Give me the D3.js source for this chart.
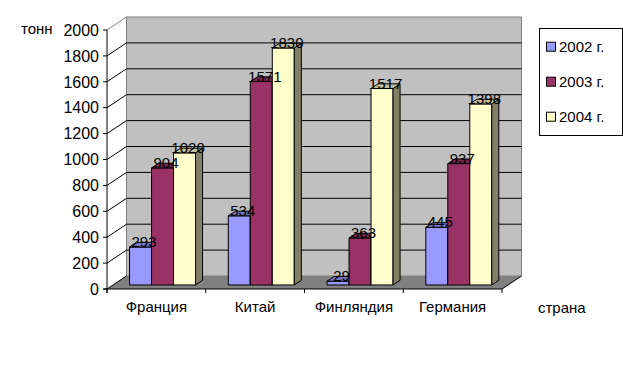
<!DOCTYPE html>
<html><head><meta charset="utf-8">
<script src="https://cdn.jsdelivr.net/npm/d3@7"></script>
<style>body{margin:0;background:#fff}svg{display:block}text{font-family:Arial,"Liberation Sans",sans-serif}</style>
</head><body><svg id="c" width="623" height="366"></svg>
<script>
const categories = ["Франция","Китай","Финляндия","Германия"];
const seriesNames = ["2002 г.","2003 г.","2004 г."];
const v2002 = [293,534,29,445];
const v2003 = [904,1571,363,937];
const v2004 = [1020,1830,1517,1398];
const yTicks = [0,200,400,600,800,1000,1200,1400,1600,1800,2000];
const colors = ["#9999FF","#993366","#FFFFCC"];
const yLabel = "тонн";
const xLabel = "страна";

const series = [v2002, v2003, v2004];
const svg = d3.select("#c");

const DX = 19.5, DY = -13;            // full depth offset
const zFront = 0.31, zBack = 0.67;     // bar depth range
const P = (x, y, z) => [x + DX*z, y + DY*z];

const x = d3.scaleBand().domain(categories).range([107, 502]);
const xs = d3.scaleBand().domain(seriesNames).range([16.5, 82.5]);
const y = d3.scaleLinear().domain([0, 2000]).range([289, 30]);

const poly = pts => pts.map(p => p.join(",")).join(" ");

// back wall
const wx0 = 107, wx1 = 502;
svg.append("polygon")
  .attr("points", poly([P(wx0,y(2000),1),P(wx1,y(2000),1),P(wx1,y(0),1),P(wx0,y(0),1)]))
  .attr("fill","#C0C0C0").attr("stroke","#808080").attr("stroke-width",1);
// floor
svg.append("polygon")
  .attr("points", poly([P(wx0,y(0),0),P(wx1,y(0),0),P(wx1,y(0),1),P(wx0,y(0),1)]))
  .attr("fill","#808080");
// gridlines
yTicks.forEach(t => {
  const a = P(wx0,y(t),0), b = P(wx0,y(t),1), c = P(wx1,y(t),1);
  const col = (t === 2000) ? "#808080" : "#000";
  svg.append("line").attr("x1",a[0]).attr("y1",a[1]).attr("x2",b[0]).attr("y2",b[1])
    .attr("stroke",col).attr("stroke-width",1);
  if (t > 0 && t < 2000)
    svg.append("line").attr("x1",b[0]).attr("y1",b[1]).attr("x2",c[0]).attr("y2",c[1])
      .attr("stroke","#000").attr("stroke-width",1);
});
// floor right edge
{ const a = P(wx1,y(0),0), b = P(wx1,y(0),1);
  svg.append("line").attr("x1",a[0]).attr("y1",a[1]).attr("x2",b[0]).attr("y2",b[1]).attr("stroke","#000"); }

// bars
const shade = (c, k) => { const r = d3.rgb(c); return d3.rgb(r.r*k, r.g*k, r.b*k).formatHex(); };
const labels = [];
categories.forEach((cat, ci) => {
  seriesNames.forEach((s, si) => {
    const v = series[si][ci];
    const xl = x(cat) + xs(s), xr = xl + xs.bandwidth();
    const yt = y(v), yb = y(0);
    const g = svg.append("g").attr("stroke","#000").attr("stroke-width",1).attr("stroke-linejoin","round");
    g.append("polygon").attr("points", poly([P(xl,yt,zFront),P(xr,yt,zFront),P(xr,yb,zFront),P(xl,yb,zFront)]))
      .attr("fill", colors[si]);
    g.append("polygon").attr("points", poly([P(xr,yt,zFront),P(xr,yt,zBack),P(xr,yb,zBack),P(xr,yb,zFront)]))
      .attr("fill", shade(colors[si], 0.5));
    g.append("polygon").attr("points", poly([P(xl,yt,zFront),P(xr,yt,zFront),P(xr,yt,zBack),P(xl,yt,zBack)]))
      .attr("fill", shade(colors[si], 0.75));
    const c = P((xl+xr)/2, yt, (zFront+zBack)/2);
    labels.push({v, x: c[0], y: P(0,yt,zFront)[1]});
  });
});

// axes
const ax = svg.append("g").attr("stroke","#000").attr("stroke-width",1);
ax.append("line").attr("x1",107).attr("y1",y(2000)).attr("x2",107).attr("y2",y(0)+4);
ax.append("line").attr("x1",103).attr("y1",y(0)).attr("x2",502).attr("y2",y(0));
yTicks.forEach(t => ax.append("line").attr("x1",103).attr("y1",y(t)).attr("x2",107).attr("y2",y(t)));
[107, ...categories.map(c => x(c)+x.bandwidth())].forEach(px =>
  ax.append("line").attr("x1",px).attr("y1",y(0)).attr("x2",px).attr("y2",y(0)+4));

svg.append("g").selectAll("text").data(yTicks).join("text")
  .attr("x",99).attr("y",d => y(d)).attr("dy","0.36em").attr("text-anchor","end")
  .attr("font-size",16).attr("fill","#000").text(d => d);

svg.append("g").selectAll("text").data(categories).join("text")
  .attr("x",d => x(d)+x.bandwidth()/2).attr("y",312).attr("text-anchor","middle")
  .attr("font-size",15).attr("fill","#000").text(d => d);

svg.append("text").attr("x",21).attr("y",34).attr("font-size",15).text(yLabel);
svg.append("text").attr("x",538).attr("y",313).attr("font-size",15).text(xLabel);

// value labels
svg.append("g").selectAll("text").data(labels).join("text")
  .attr("x",d => d.x).attr("y",d => d.y).attr("text-anchor","middle")
  .attr("font-size",15).attr("fill","#000").text(d => d.v);

// legend
const lg = svg.append("g");
lg.append("rect").attr("x",539.5).attr("y",28.5).attr("width",83).attr("height",107)
  .attr("fill","#fff").attr("stroke","#000");
seriesNames.forEach((s, i) => {
  const cy = 46.7 + i*35;
  lg.append("rect").attr("x",546.5).attr("y",cy-4.5).attr("width",9).attr("height",9)
    .attr("fill",colors[i]).attr("stroke","#000");
  lg.append("text").attr("x",559).attr("y",cy+5.6).attr("font-size",15).text(s);
});
</script></body></html>
